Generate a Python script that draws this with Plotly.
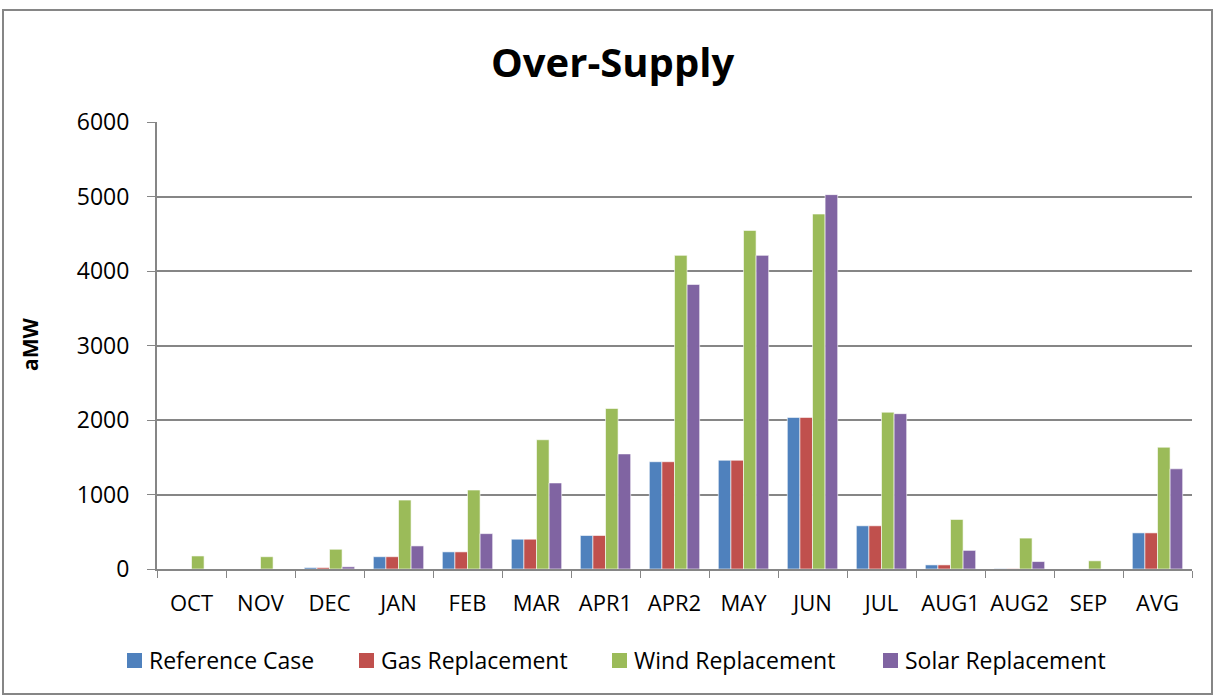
import plotly.graph_objects as go

categories = ["OCT", "NOV", "DEC", "JAN", "FEB", "MAR", "APR1", "APR2", "MAY", "JUN", "JUL", "AUG1", "AUG2", "SEP", "AVG"]
reference_case = [0, 0, 20, 165, 230, 400, 450, 1440, 1460, 2035, 580, 55, 5, 0, 485]
gas_replacement = [0, 0, 20, 165, 230, 400, 450, 1440, 1460, 2035, 580, 55, 5, 0, 485]
wind_replacement = [175, 165, 265, 925, 1060, 1735, 2155, 4210, 4545, 4765, 2105, 665, 415, 110, 1635]
solar_replacement = [0, 0, 30, 310, 475, 1155, 1545, 3820, 4210, 5025, 2085, 250, 100, 0, 1345]

series = [
    ("Reference Case", reference_case, "#4F81BD"),
    ("Gas Replacement", gas_replacement, "#C0504D"),
    ("Wind Replacement", wind_replacement, "#9BBB59"),
    ("Solar Replacement", solar_replacement, "#8064A2"),
]

FONT = "'Open Sans', sans-serif"

L, R, T, B = 157, 1192, 122, 569
W, H = 1215, 696
pw, ph = R - L, B - T

def px(x):
    return (x - L) / pw

def py(y):
    return (B - y) / ph

fig = go.Figure()
for name, vals, col in series:
    fig.add_trace(go.Bar(
        x=categories, y=vals, name=name, showlegend=False,
        marker=dict(color=col, line=dict(color="rgba(255,255,255,0.6)", width=1)),
    ))

# manual legend (Excel-style layout)
legend_x = [127, 359, 612, 883]
shapes = [dict(
    type="rect", xref="paper", yref="paper",
    x0=px(3), x1=px(1212), y0=py(694), y1=py(10),
    line=dict(color="#868686", width=2), fillcolor="rgba(0,0,0,0)",
)]
annotations = [
    dict(text="<b>Over-Supply</b>", xref="paper", yref="paper",
         x=px(612), y=py(62), xanchor="center", yanchor="middle",
         showarrow=False, font=dict(size=40, family=FONT)),
    dict(text="<b>aMW</b>", xref="paper", yref="paper",
         x=px(30), y=py(345), xanchor="center", yanchor="middle",
         textangle=-90, showarrow=False, font=dict(size=21, family=FONT)),
]
for (name, vals, col), lx in zip(series, legend_x):
    shapes.append(dict(
        type="rect", xref="paper", yref="paper",
        x0=px(lx), x1=px(lx + 15), y0=py(668), y1=py(653),
        line=dict(width=0), fillcolor=col,
    ))
    annotations.append(dict(
        text=name, xref="paper", yref="paper",
        x=px(lx + 20), y=py(660), xanchor="left", yanchor="middle",
        showarrow=False, font=dict(size=23, family=FONT),
    ))

fig.update_layout(
    width=W, height=H,
    margin=dict(l=L, r=W - R, t=T, b=H - B),
    paper_bgcolor="white", plot_bgcolor="white",
    barmode="group", bargap=0.27, bargroupgap=0,
    font=dict(family=FONT, size=22, color="black"),
    showlegend=False,
    xaxis=dict(
        type="category", tickson="boundaries", ticks="outside", ticklen=7,
        tickcolor="#868686", showline=True, linecolor="#868686", linewidth=2,
        showgrid=False, tickfont=dict(size=22, family=FONT),
        ticklabelstandoff=14,
    ),
    yaxis=dict(
        range=[0, 6000], dtick=1000, ticks="outside", ticklen=8,
        tickcolor="#868686", showline=True, linecolor="#868686", linewidth=2,
        showgrid=True, gridcolor="#868686", gridwidth=1.5,
        zeroline=False, tickfont=dict(size=23, family=FONT),
        ticklabelstandoff=13,
    ),
    shapes=shapes,
    annotations=annotations,
)

fig.write_html("out.html", config={"displayModeBar": False},
               post_script="document.body.style.margin='0';")
